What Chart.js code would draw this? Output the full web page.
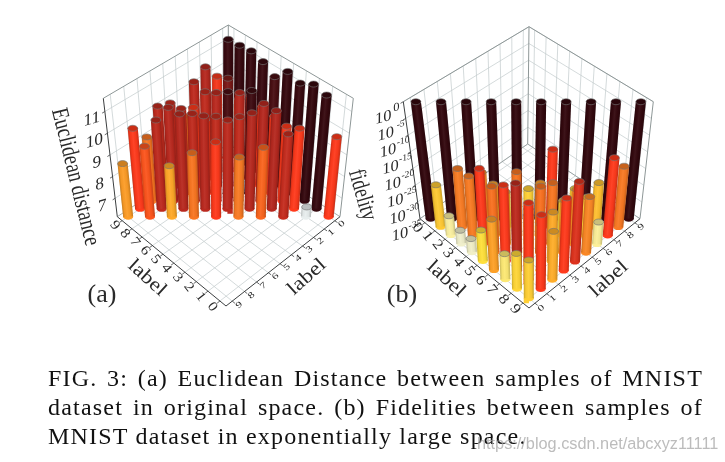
<!DOCTYPE html>
<html>
<head>
<meta charset="utf-8">
<title>FIG. 3</title>
<script src="https://cdn.jsdelivr.net/npm/chart.js@4"></script>
<style>
  body { margin: 0; background: #fff; width: 725px; height: 462px; overflow: hidden; position: relative; }
  #plot { position: absolute; left: 0; top: 0; }
  .cap { position: absolute; left: 48px; width: 655px; font: 24px/26px "Liberation Serif", serif; letter-spacing: 1.2px; color: #111; white-space: nowrap; }
  .just { text-align: justify; text-align-last: justify; white-space: normal; }
  #mark { position: absolute; left: 477px; top: 433px; font: 16.3px/20px "Liberation Sans", sans-serif; color: rgba(165,165,165,.75); }
</style>
</head>
<body>
<canvas id="plot" width="725" height="462"></canvas>
<div class="cap just" style="top:365px">FIG. 3: (a) Euclidean Distance between samples of MNIST</div>
<div class="cap just" style="top:394px">dataset in original space. (b) Fidelities between samples of</div>
<div class="cap" style="top:423px">MNIST dataset in exponentially large space.</div>
<div id="mark">https://blog.csdn.net/abcxyz11111</div>
<script>
// DATA
const axisLabels = [0, 1, 2, 3, 4, 5, 6, 7, 8, 9];
const distanceTicks = [7, 8, 9, 10, 11];
const fidelityTicks = [0, -5, -10, -15, -20, -25, -30, -35];

// euclidean distance, one row per diagonal, row 0 is the line of same label pairs
const distanceRows = [
  [8.6, 9.4, 8.5, 9.1, 9.6, 8.9, 9.35, 9.97, 6.6, 9.84],
  [9.86, 10.24, 10.52, 10.43, 10.24, 10.57, 10.67, 9.86, 11.39],
  [9.1, 10.46, 10.18, 10.05, 10.03, 10.64, 9.59, 11.53],
  [10.17, 10.06, 9.54, 10.83, 10.88, 9.7, 11.22],
  [9.97, 9.76, 10.44, 10.44, 9.81, 11.41],
  [9.04, 10.14, 10.76, 9.97, 10.83],
  [10.27, 9.75, 9.48, 11.19],
  [10.63, 8.88, 11.36],
  [9.88, 11.3],
  [11.26]
];

// fidelity as power of ten
const fidelityRows = [
  [0, 0, 0, 0, 0, 0, 0, 0, 0, 0],
  [-22.4, -17.5, -18.6, -24.5, -23.5, -11.7, -23.5, -21.7, -16.8],
  [-29.2, -17.2, -19.6, -15.9, -19.3, -24.5, -23.5, -11.7],
  [-31, -12.3, -19.3, -24.5, -16.6, -18.6, -28.4],
  [-30.9, -15, -17.5, -15, -19.3, -18.1],
  [-25.6, -11.9, -21, -20.1, -10.8],
  [-19.5, -8.5, -21, -13],
  [-27.2, -11.6, -20.3],
  [-24.2, -12.3],
  [-23.2]
];

// box corners on the page: front, left, back, right
const panelA = {
  floor: [[226, 306], [117.3, 216.7], [228.3, 144], [340, 216.7]],
  top: [[227.3, 190], [103.3, 98.3], [228.3, 25], [353.3, 98.3]],
  zMin: 6.15, zMax: 11.61
};
const panelB = {
  floor: [[529, 308], [420, 218.7], [527.7, 144], [640, 218.7]],
  top: [[528.3, 195], [403.3, 101.7], [529, 26.7], [653.3, 101.7]],
  zMin: -35, zMax: 0
};
const barWidth = 10;

// HOMOGRAPHY for a box plane
function makeMap(q) {
  const [x0, y0] = q[0], [x1, y1] = q[1], [x2, y2] = q[2], [x3, y3] = q[3];
  const dx1 = x1 - x2, dx2 = x3 - x2, dy1 = y1 - y2, dy2 = y3 - y2;
  const sx = x0 - x1 + x2 - x3, sy = y0 - y1 + y2 - y3;
  const den = dx1 * dy2 - dx2 * dy1;
  const g = (sx * dy2 - dx2 * sy) / den, h = (dx1 * sy - sx * dy1) / den;
  const a = x1 - x0 + g * x1, b = x3 - x0 + h * x3;
  const d = y1 - y0 + g * y1, e = y3 - y0 + h * y3;
  return (u, v) => {
    const w = g * u + h * v + 1;
    return [(a * u + b * v + x0) / w, (d * u + e * v + y0) / w];
  };
}

panelA.floorMap = makeMap(panelA.floor);
panelA.topMap = makeMap(panelA.top);
panelB.floorMap = makeMap(panelB.floor);
panelB.topMap = makeMap(panelB.top);

function project(panel, p, q, h) {
  const f = panel.floorMap(p, q), t = panel.topMap(p, q);
  return { x: f[0] + (t[0] - f[0]) * h, y: f[1] + (t[1] - f[1]) * h };
}

function fraction(panel, value) {
  return (value - panel.zMin) / (panel.zMax - panel.zMin);
}

// COLOR MAP
const colorStops = [
  [0, "#ffffff"], [0.09, "#e6ecec"], [0.14, "#fbf2a8"], [0.2, "#fbee96"], [0.26, "#ffe23c"],
  [0.36, "#ffc933"], [0.43, "#ffa928"], [0.5, "#f97c24"], [0.58, "#f9701f"], [0.61, "#ff3a1c"],
  [0.68, "#ff3a1c"], [0.7, "#c42c1e"], [0.83, "#b5281f"], [0.86, "#3e0b11"], [1, "#33080e"]
];

function hexToRgb(hex) {
  return [1, 3, 5].map((i) => parseInt(hex.substr(i, 2), 16));
}

function heatColor(h, scale = 1) {
  for (let i = 1; i < colorStops.length; i++) {
    if (h <= colorStops[i][0]) {
      const t = (h - colorStops[i - 1][0]) / (colorStops[i][0] - colorStops[i - 1][0]);
      const a = hexToRgb(colorStops[i - 1][1]), b = hexToRgb(colorStops[i][1]);
      const c = a.map((v, n) => Math.round((v + (b[n] - v) * t) * scale));
      return `rgb(${c[0]},${c[1]},${c[2]})`;
    }
  }
  return colorStops[colorStops.length - 1][1];
}

// DATASETS, pushed back to front
let back_to_front = [];

function addLine(a, b, color, width) {
  back_to_front.push({
    data: [a, b], borderColor: color, borderWidth: width, pointRadius: 0, tension: 0
  });
}

function addBox(panel, ticks) {
  const grid = "#c2cacb", rim = "#8e9797", dark = "#3c3f40";
  const pos = axisLabels.map((i) => (i + 0.5) / 10);

  // floor and walls
  pos.forEach((u) => {
    addLine(project(panel, u, 0, 0), project(panel, u, 1, 0), grid, 0.7);
    addLine(project(panel, 0, u, 0), project(panel, 1, u, 0), grid, 0.7);
    addLine(project(panel, u, 1, 0), project(panel, u, 1, 1), grid, 0.7);
    addLine(project(panel, 1, u, 0), project(panel, 1, u, 1), grid, 0.7);
  });
  ticks.forEach((t) => {
    const h = fraction(panel, t);
    addLine(project(panel, 1, 0, h), project(panel, 1, 1, h), grid, 0.7);
    addLine(project(panel, 0, 1, h), project(panel, 1, 1, h), grid, 0.7);
  });

  // box rims
  addLine(project(panel, 1, 0, 1), project(panel, 1, 1, 1), rim, 1);
  addLine(project(panel, 0, 1, 1), project(panel, 1, 1, 1), rim, 1);
  addLine(project(panel, 1, 1, 0), project(panel, 1, 1, 1), rim, 1);
  addLine(project(panel, 0, 1, 0), project(panel, 0, 1, 1), rim, 1);
  addLine(project(panel, 1, 0, 0), project(panel, 1, 1, 0), rim, 0.8);
  addLine(project(panel, 0, 1, 0), project(panel, 1, 1, 0), rim, 0.8);

  // axes in front
  addLine(project(panel, 0, 0, 0), project(panel, 1, 0, 0), dark, 1);
  addLine(project(panel, 0, 0, 0), project(panel, 0, 1, 0), dark, 1);
  addLine(project(panel, 1, 0, 0), project(panel, 1, 0, 1), dark, 1);
  pos.forEach((u) => {
    addLine(project(panel, u, 0, 0), project(panel, u, -0.022, 0), dark, 0.8);
    addLine(project(panel, 0, u, 0), project(panel, -0.022, u, 0), dark, 0.8);
  });
  ticks.forEach((t) => {
    const h = fraction(panel, t);
    addLine(project(panel, 1, 0, h), project(panel, 1, -0.02, h), dark, 0.8);
  });
}

function addCylinder(panel, p, q, value) {
  const h = fraction(panel, value);
  back_to_front.push({
    data: [project(panel, p, q, 0), project(panel, p, q, h)],
    borderColor: heatColor(h),
    borderWidth: barWidth,
    pointRadius: 0,
    tension: 0,
    cylinderWidth: barWidth,
    capColor: heatColor(h, 0.8)
  });
}

addBox(panelA, distanceTicks);
// panel a: rows run from the far corner to the diagonal
for (let s = 9; s >= 0; s--) {
  distanceRows[s].forEach((value, k) => {
    addCylinder(panelA, (9 - k + 0.5) / 10, (k + s + 0.5) / 10, value);
  });
}

addBox(panelB, fidelityTicks);
// panel b: rows run from the diagonal to the front corner
for (let r = 0; r <= 9; r++) {
  fidelityRows[r].forEach((value, k) => {
    addCylinder(panelB, (9 - r - k + 0.5) / 10, (k + 0.5) / 10, value);
  });
}

// CYLINDER ENDS AND SHADING
const cylinderPlugin = {
  id: "cylinder",
  beforeDatasetDraw(chart, args) {
    const ds = chart.data.datasets[args.index];
    if (!ds.cylinderWidth) return;
    const c = chart.ctx, base = args.meta.data[0];
    c.save();
    c.fillStyle = ds.borderColor;
    c.beginPath();
    c.ellipse(base.x, base.y, ds.cylinderWidth / 2, ds.cylinderWidth * 0.3, 0, 0, Math.PI * 2);
    c.fill();
    c.restore();
  },
  afterDatasetDraw(chart, args) {
    const ds = chart.data.datasets[args.index];
    if (!ds.cylinderWidth) return;
    const c = chart.ctx, base = args.meta.data[0], tip = args.meta.data[1];
    const r = ds.cylinderWidth / 2;
    const ang = Math.atan2(tip.y - base.y, tip.x - base.x);
    c.save();
    c.translate(base.x, base.y);
    c.rotate(ang);
    const len = Math.hypot(tip.x - base.x, tip.y - base.y);
    const g = c.createLinearGradient(0, -r, 0, r);
    g.addColorStop(0, "rgba(0,0,0,0.2)");
    g.addColorStop(0.2, "rgba(0,0,0,0.03)");
    g.addColorStop(0.45, "rgba(255,255,255,0.05)");
    g.addColorStop(0.75, "rgba(0,0,0,0.04)");
    g.addColorStop(1, "rgba(0,0,0,0.22)");
    c.fillStyle = g;
    c.fillRect(0, -r, len, r * 2);
    c.restore();

    c.save();
    c.fillStyle = ds.capColor;
    c.strokeStyle = "rgba(115,115,115,0.9)";
    c.lineWidth = 0.7;
    c.beginPath();
    c.ellipse(tip.x, tip.y, r, ds.cylinderWidth * 0.3, 0, 0, Math.PI * 2);
    c.fill();
    c.stroke();
    c.restore();
  }
};

// TEXT ON THE AXES
function putText(c, text, x, y, angle, font, sx = 1, sy = 1, shear = 0) {
  c.save();
  c.translate(x, y);
  c.rotate(angle * Math.PI / 180);
  c.transform(1, 0, shear, 1, 0, 0);
  c.scale(sx, sy);
  c.font = font;
  c.fillStyle = "#2a2a2a";
  c.textAlign = "center";
  c.textBaseline = "middle";
  c.fillText(text, 0, 0);
  c.restore();
}

const serif = '"Liberation Serif", serif';

const textPlugin = {
  id: "axisText",
  afterDraw(chart) {
    const c = chart.ctx;

    // panel a
    axisLabels.forEach((i) => {
      let pt = project(panelA, (i + 0.5) / 10, -0.06, 0);
      putText(c, String(i), pt.x, pt.y, 52, `16px ${serif}`, 1, 0.85);
      pt = project(panelA, -0.04, (9 - i + 0.5) / 10, 0);
      pt.x += 2;
      putText(c, String(i), pt.x, pt.y, -42, `11px ${serif}`, 1.1, 0.8);
    });
    distanceTicks.forEach((t) => {
      const pt = project(panelA, 1, 0, fraction(panelA, t));
      putText(c, String(t), pt.x - 13, pt.y + 8, -16, `18px ${serif}`, 1, 0.9, -0.3);
    });
    putText(c, "label", 147, 278, 42, `23px ${serif}`, 1, 0.85);
    putText(c, "label", 307, 277, -42, `23px ${serif}`, 1, 0.85);
    putText(c, "Euclidean distance", 75, 177, 76, `24px ${serif}`, 0.78, 1);
    putText(c, "(a)", 102, 295, 0, `26px ${serif}`);

    // panel b
    axisLabels.forEach((i) => {
      let pt = project(panelB, (9 - i + 0.5) / 10, -0.065, 0);
      putText(c, String(i), pt.x, pt.y, 52, `17px ${serif}`, 1, 0.85);
      pt = project(panelB, -0.05, (i + 0.5) / 10, 0);
      putText(c, String(i), pt.x, pt.y, -42, `11px ${serif}`, 1.1, 0.8);
    });
    fidelityTicks.forEach((t) => {
      const pt = project(panelB, 1, 0, fraction(panelB, t));
      const ox = pt.x - 20, oy = pt.y + 16;
      putText(c, "10", ox, oy, -16, `17px ${serif}`, 1, 0.9, -0.3);
      putText(c, String(t), ox + (t === 0 ? 13 : 15), oy - 10, -16, `${t === 0 ? 13 : 10}px ${serif}`, 1, 0.9, -0.3);
    });
    putText(c, "label", 446, 279, 42, `23px ${serif}`, 1, 0.85);
    putText(c, "label", 609, 279, -42, `23px ${serif}`, 1, 0.85);
    putText(c, "fidelity", 362, 195, 74, `24px ${serif}`, 0.75, 1);
    putText(c, "(b)", 402, 295, 0, `26px ${serif}`);
  }
};

// Chart.js paints the last dataset first
const my_chart = new Chart(document.getElementById("plot").getContext("2d"), {
  type: "scatter",
  data: { datasets: back_to_front.slice().reverse().map((d) => Object.assign(d, { showLine: true, clip: false })) },
  options: {
    responsive: false,
    animation: false,
    layout: { padding: 0 },
    events: [],
    plugins: { legend: { display: false }, tooltip: { enabled: false } },
    scales: {
      x: { type: "linear", min: 0, max: 725, display: false },
      y: { type: "linear", min: 0, max: 462, reverse: true, display: false }
    }
  },
  plugins: [cylinderPlugin, textPlugin]
});
</script>
</body>
</html>
